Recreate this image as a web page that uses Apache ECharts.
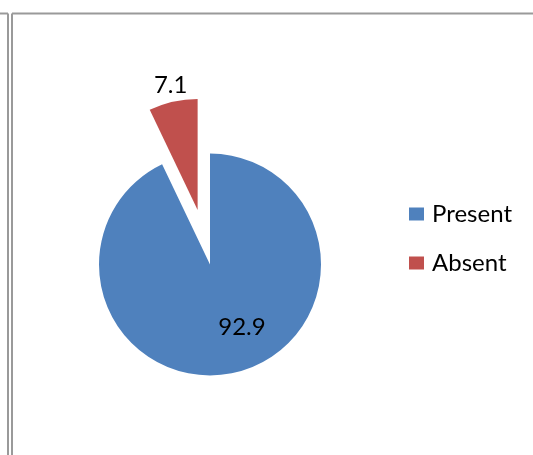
<!DOCTYPE html>
<html>
<head>
<meta charset="utf-8">
<style>
  html, body { margin: 0; padding: 0; background: #ffffff; }
  #chart { width: 533px; height: 455px; }
</style>
<script src="https://cdn.jsdelivr.net/npm/echarts@6/dist/echarts.min.js"></script>
</head>
<body>
<div id="chart"></div>
<script>
// Share of cases where the finding is present or absent (%)
var categories = ['Present', 'Absent'];
var values = [92.9, 7.1];
var colors = ['#4F81BD', '#C0504D'];

var FONT = 'Lato, "Open Sans", sans-serif';

var chart = echarts.init(document.getElementById('chart'), null, { renderer: 'canvas' });

var pieData = categories.map(function (name, i) {
  return {
    name: name,
    value: values[i],
    selected: name === 'Absent',
    itemStyle: { color: colors[i] }
  };
});

// Frame lines around the plot area
var frameColor = '#9a9a9a';
var frame = [
  { type: 'line', shape: { x1: 0, y1: 13.5, x2: 8, y2: 13.5 } },
  { type: 'line', shape: { x1: 8, y1: 13.5, x2: 8, y2: 455 } },
  { type: 'line', shape: { x1: 12, y1: 13.5, x2: 533, y2: 13.5 } },
  { type: 'line', shape: { x1: 12, y1: 13.5, x2: 12, y2: 455 } }
].map(function (g) {
  g.style = { stroke: frameColor, lineWidth: 2 };
  g.silent = true;
  return g;
});

chart.setOption({
  animation: false,
  backgroundColor: '#ffffff',
  graphic: frame,
  legend: {
    orient: 'vertical',
    left: 409,
    top: 202,
    padding: 0,
    itemWidth: 15,
    itemHeight: 13,
    itemGap: 25,
    icon: 'rect',
    selectedMode: false,
    data: categories,
    textStyle: { fontFamily: FONT, fontSize: 24, color: '#000', lineHeight: 24, padding: [0, 0, 0, 3] }
  },
  series: [{
    type: 'pie',
    center: [210, 264.5],
    radius: 111,
    startAngle: 90,
    clockwise: true,
    selectedMode: 'single',
    selectedOffset: 56,
    silent: true,
    emphasis: { disabled: true },
    data: pieData,
    label: {
      show: true,
      position: 'inside',
      formatter: '{c}',
      color: '#000',
      fontFamily: FONT,
      fontSize: 24
    },
    labelLine: { show: false },
    labelLayout: function (params) {
      return params.dataIndex === 0 ? { dx: 19, dy: 6 } : { dx: -14, dy: -68 };
    }
  }]
});
</script>
</body>
</html>
